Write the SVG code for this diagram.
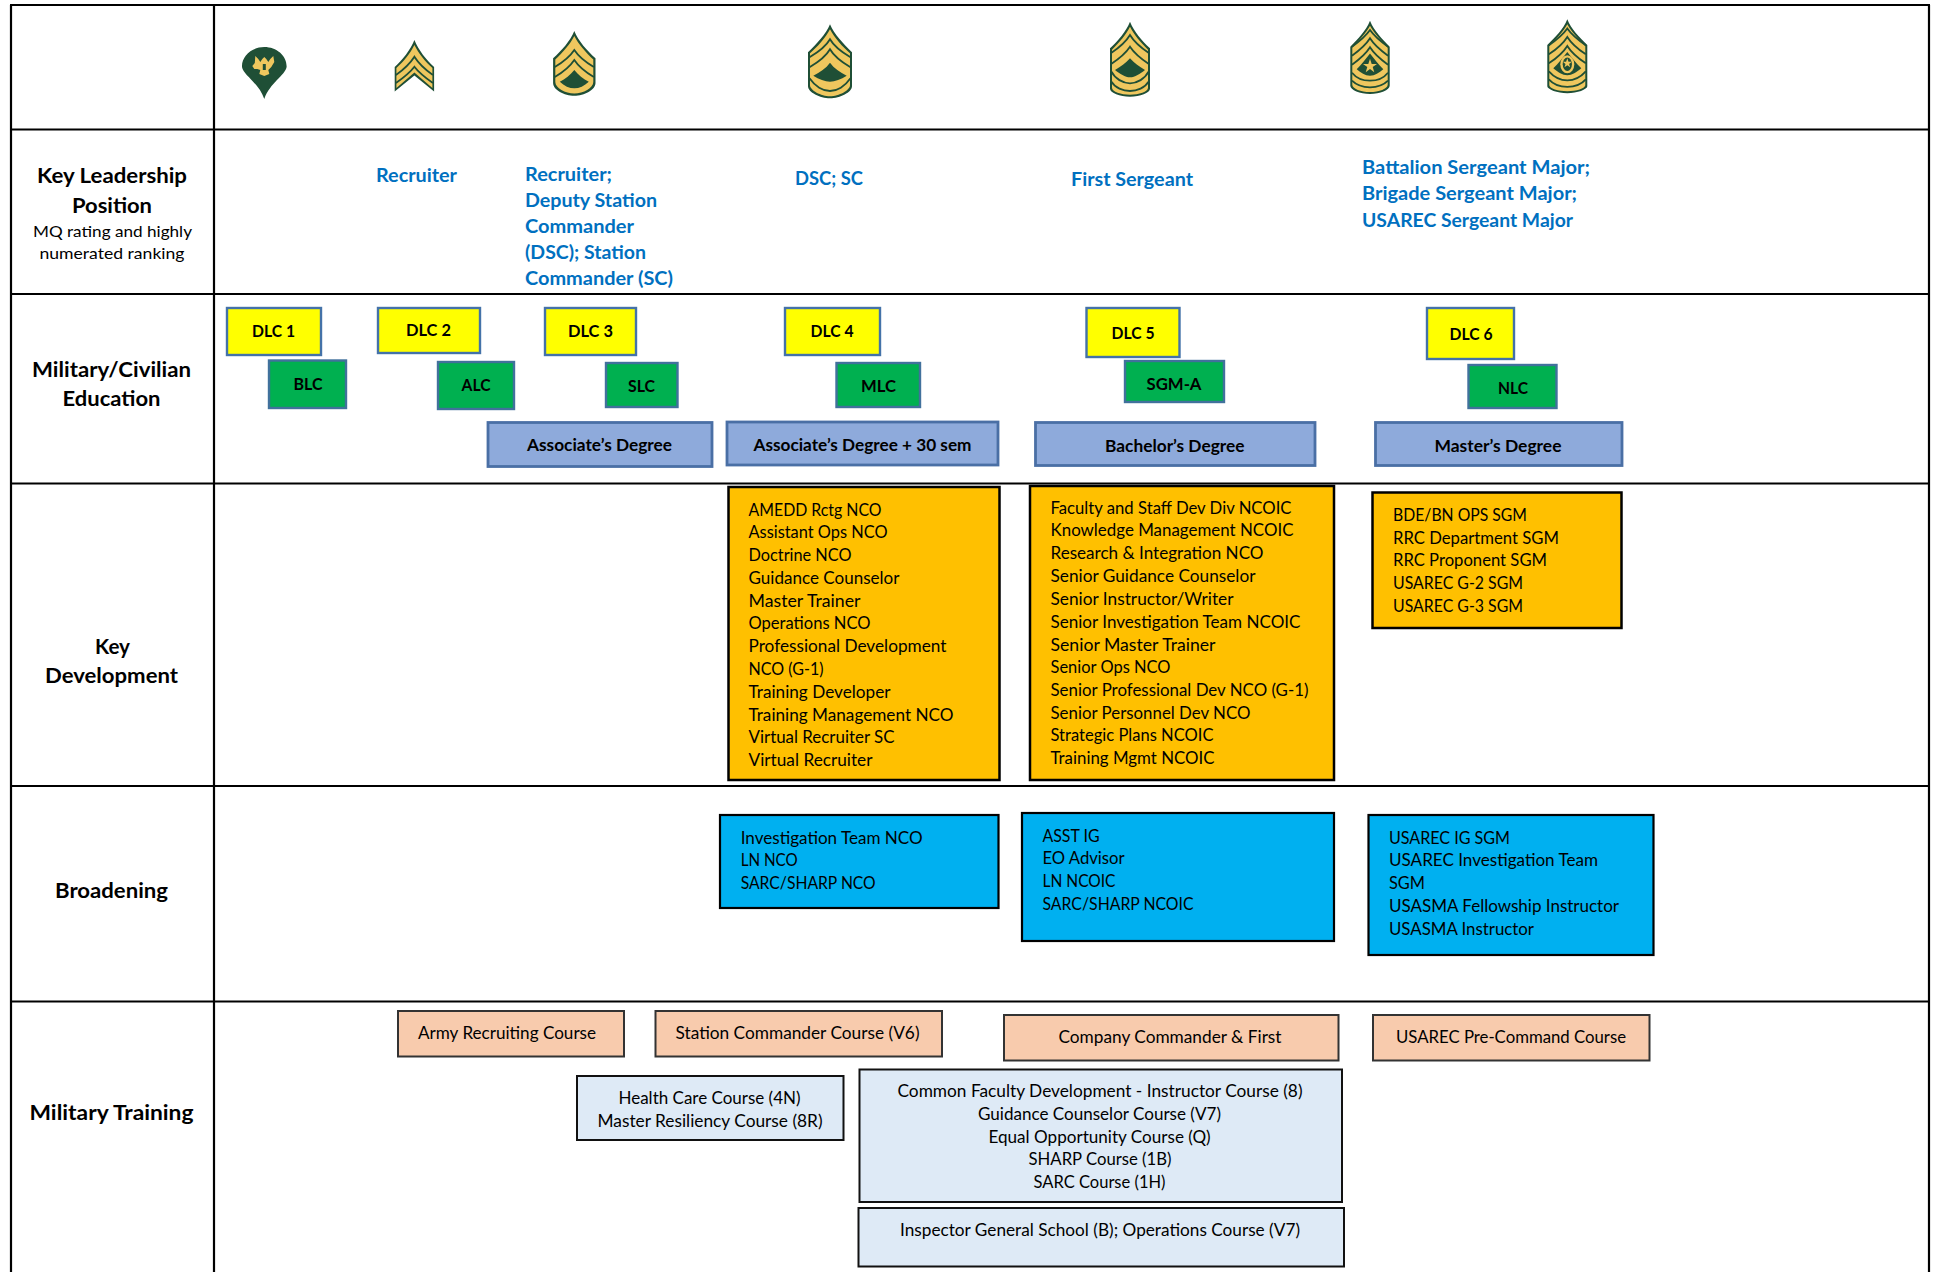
<svg xmlns="http://www.w3.org/2000/svg" width="1935" height="1272" viewBox="0 0 1935 1272">
<style>
text{font-family:"Lato","Carlito","Liberation Sans",sans-serif;fill:#000}
.h{font-size:21px;font-weight:700}
.s{font-size:16px}
.k{font-size:19.5px;font-weight:700;fill:#0070C0}
.b{font-size:17px;font-weight:700}
.d{font-size:17px;font-weight:700}
.t{font-size:17px}
.grid{stroke:#000;stroke-width:2.2;fill:none}
.y{fill:#FFFF00;stroke:#4472A8;stroke-width:2.4}
.g{fill:#00B050;stroke:#41719C;stroke-width:2.4}
.e{fill:#8EAADB;stroke:#4A6FA5;stroke-width:2.8}
.o{fill:#FFC000;stroke:#000;stroke-width:2.5}
.c{fill:#00B0F0;stroke:#000;stroke-width:2.2}
.p{fill:#F8CBAD;stroke:#333;stroke-width:2}
.l{fill:#DEEAF6;stroke:#111;stroke-width:2}
.io{fill:#1F4F36}
.ig{fill:#EFC75E}
.il{fill:none;stroke:#1F4F36;stroke-width:1.8}
</style>
<rect width="1935" height="1272" fill="#fff"/>
<g id="grid" class="grid">
<path d="M11 5V1272M214 5V1272M1929 5V1272"/>
<path d="M10 5H1930M10 129.5H1930M10 294H1930M10 483.5H1930M10 786H1930M10 1001.5H1930"/>
</g>
<g id="insignia">
<g id="rank-spc" transform="translate(264.3,47)">
<path class="io" d="M0 0C12.500 0 22.800 9 22.300 20C21 28 5.500 36 0 52C-5.500 36 -21 28 -22.300 20C-22.800 9 -12.500 0 0 0Z"/>
<path class="ig" d="M-9 9L-6 12L-4 15L-2 12L0 10L2 12L4 15L6 12L9 9L10 15L7 20L4 23L5 27L0 29L-5 27L-4 23L-7 22L-10 22L-12 19L-9.500 16Z"/>
<path class="io" d="M-1.500 17H1.500V23H-1.500Z"/>
</g>
<g id="rank-sgt" transform="translate(414.4,40)">
<path class="io" d="M0 0C-4 10 -12 20 -19.7 27L-19.7 51.5L0 35.5L19.7 51.5L19.7 27C12 20 4 10 0 0Z"/>
<path class="ig" d="M0 5C-4 13 -11 22 -18 28L-18 48L0 32.5L18 48L18 28C11 22 4 13 0 5Z"/>
<path class="il" d="M-18.5 35C-10 29 -4 23 0 16.7C4 23 10 29 18.5 35M-18.5 43C-10 37 -4 32 0 26.7C4 32 10 37 18.5 43"/>
</g>
<g id="rank-ssg" transform="translate(574.3,31)">
<path class="io" d="M0 0C-4 10 -13 20 -21.2 27.3L-21.2 52C-21.2 59 -10 64.7 0 64.7C10 64.7 21.2 59 21.2 52L21.2 27.3C13 20 4 10 0 0Z"/>
<path class="ig" d="M0 5C-4 13 -12 22 -19 28.5L-19 51C-19 57 -9 62.5 0 62.5C9 62.5 19 57 19 51L19 28.5C12 22 4 13 0 5Z"/>
<path class="il" d="M-19.5 36C-11 31 -4 25 0 19C4 25 11 31 19.5 36M-19.5 46C-11 41 -4 35 0 29C4 35 11 41 19.5 46"/>
<path class="io" d="M0 39C-4 44 -9 48 -14.5 50.7C-10 55 -5 57.3 0 57.3C5 57.3 10 55 14.5 50.7C9 48 4 44 0 39Z"/>
</g>
<g id="rank-sfc" transform="translate(830,24.3)">
<path class="io" d="M0 0C-4 10 -14 20 -22 28L-22 62C-22 68 -10 74 0 74C10 74 22 68 22 62L22 28C14 20 4 10 0 0Z"/>
<path class="ig" d="M0 5C-4 13 -13 23 -20 29L-20 61C-20 66 -9 72 0 72C9 72 20 66 20 61L20 29C13 23 4 13 0 5Z"/>
<path class="il" d="M-20.5 33C-12 28 -4 22 0 15C4 22 12 28 20.5 33M-20.5 43C-12 38 -4 32 0 25C4 32 12 38 20.5 43M-20.5 54C-15 62 -7 66.7 0 66.7C7 66.7 15 62 20.5 54"/>
<path class="io" d="M0 38.4C-4 44 -10 48 -16.7 51.4C-11 55 -5 57.4 0 57.4C5 57.4 11 55 16.7 51.4C10 48 4 44 0 38.4Z"/>
</g>
<g id="rank-msg" transform="translate(1130,21.7)">
<path class="io" d="M0 0C-4 10 -12 19 -20 26.6L-20 67C-20 71 -10 75 0 75C10 75 20 71 20 67L20 26.6C12 19 4 10 0 0Z"/>
<path class="ig" d="M0 5C-4 13 -11 21 -18 28L-18 66C-18 70 -9 73 0 73C9 73 18 70 18 66L18 28C11 21 4 13 0 5Z"/>
<path class="il" d="M-18.5 31C-11 26 -4 20 0 13.3C4 20 11 26 18.5 31M-18.5 42C-11 37 -4 31 0 25C4 31 11 37 18.5 42M-18.5 50C-15 57 -7 61.6 0 61.6C7 61.6 15 57 18.5 50M-18.5 60C-15 66 -7 69.3 0 69.3C7 69.3 15 66 18.5 60"/>
<path class="io" d="M0 36.6C-4 41 -9 45 -15 48.3C-10 52 -5 55.6 0 55.6C5 55.6 10 52 15 48.3C9 45 4 41 0 36.6Z"/>
</g>
<g id="rank-sgm" transform="translate(1370,20.7)">
<path class="io" d="M0 0C-4 10 -12 18 -19.7 26L-19.7 65C-19.7 69 -10 73.3 0 73.3C10 73.3 19.7 69 19.7 65L19.7 26C12 18 4 10 0 0Z"/>
<path class="ig" d="M0 5C-4 12 -11 20 -17.7 27L-17.7 64C-17.7 68 -9 71.3 0 71.3C9 71.3 17.7 68 17.7 64L17.7 27C11 20 4 12 0 5Z"/>
<path class="il" d="M-18 26C-11 21 -4 15 0 9.3C4 15 11 21 18 26M-18 35C-11 30 -4 24 0 17.6C4 24 11 30 18 35M-18 44C-11 39 -4 33 0 26.6C4 33 11 39 18 44M-18 52C-14 57 -7 60 0 60C7 60 14 57 18 52M-18 60C-14 64 -7 66.6 0 66.6C7 66.6 14 64 18 60"/>
<path class="io" d="M0 32.7C-4 38 -9 44 -13.3 48.6C-9 52 -5 55 0 55C5 55 9 52 13.3 48.6C9 44 4 38 0 32.7Z"/>
<path class="ig" d="M0 38L1.7 43.2L7 43.2L2.7 46.4L4.3 51.6L0 48.4L-4.3 51.6L-2.7 46.4L-7 43.2L-1.7 43.2Z"/>
</g>
<g id="rank-csm" transform="translate(1567.3,19.3)">
<path class="io" d="M0 0C-4 10 -12 18 -20 25.7L-20 67C-20 70 -10 74 0 74C10 74 20 70 20 67L20 25.7C12 18 4 10 0 0Z"/>
<path class="ig" d="M0 5C-4 12 -11 20 -18 27L-18 66C-18 69 -9 72 0 72C9 72 18 69 18 66L18 27C11 20 4 12 0 5Z"/>
<path class="il" d="M-18.5 26C-11 21 -4 15 0 9.3C4 15 11 21 18.5 26M-18.5 35C-11 30 -4 24 0 17.6C4 24 11 30 18.5 35M-18.5 44C-11 39 -4 33 0 26.6C4 33 11 39 18.5 44M-18.5 52C-14 57 -7 61 0 61C7 61 14 57 18.5 52M-18.5 60C-14 65 -7 67.5 0 67.5C7 67.5 14 65 18.5 60"/>
<path class="io" d="M0 32.7C-4 38 -9 44 -14 49C-9 53 -5 56 0 56C5 56 9 53 14 49C9 44 4 38 0 32.7Z"/>
<ellipse class="ig" cx="0" cy="45" rx="7" ry="9"/>
<ellipse class="io" cx="0" cy="45" rx="4.6" ry="6.8"/>
<path class="ig" d="M0 39L1.2 42.5L4.5 42.5L1.8 44.6L2.8 48L0 46L-2.8 48L-1.8 44.6L-4.5 42.5L-1.2 42.5Z"/>
</g>
</g>
<g id="row-labels">
<text class="h" x="37" y="183" textLength="150" lengthAdjust="spacingAndGlyphs">Key Leadership</text>
<text class="h" x="72" y="213" textLength="80" lengthAdjust="spacingAndGlyphs">Position</text>
<text class="s" x="33" y="237" textLength="159" lengthAdjust="spacingAndGlyphs">MQ rating and highly</text>
<text class="s" x="39.500" y="258.7" textLength="145" lengthAdjust="spacingAndGlyphs">numerated ranking</text>
<text class="h" x="32" y="377" textLength="159" lengthAdjust="spacingAndGlyphs">Military/Civilian</text>
<text class="h" x="62.500" y="406" textLength="98" lengthAdjust="spacingAndGlyphs">Education</text>
<text class="h" x="95" y="654.3" textLength="35" lengthAdjust="spacingAndGlyphs">Key</text>
<text class="h" x="45" y="683" textLength="133" lengthAdjust="spacingAndGlyphs">Development</text>
<text class="h" x="55" y="897.6" textLength="113" lengthAdjust="spacingAndGlyphs">Broadening</text>
<text class="h" x="29.500" y="1120" textLength="164" lengthAdjust="spacingAndGlyphs">Military Training</text>
</g>
<g id="key-leadership">
<text class="k" x="376" y="182" textLength="81" lengthAdjust="spacingAndGlyphs">Recruiter</text>
<text class="k" x="525" y="180.7" textLength="87" lengthAdjust="spacingAndGlyphs">Recruiter;</text>
<text class="k" x="525" y="206.7" textLength="132" lengthAdjust="spacingAndGlyphs">Deputy Station</text>
<text class="k" x="525" y="232.7" textLength="109" lengthAdjust="spacingAndGlyphs">Commander</text>
<text class="k" x="525" y="258.7" textLength="121" lengthAdjust="spacingAndGlyphs">(DSC); Station</text>
<text class="k" x="525" y="284.7" textLength="148" lengthAdjust="spacingAndGlyphs">Commander (SC)</text>
<text class="k" x="795" y="185" textLength="68" lengthAdjust="spacingAndGlyphs">DSC; SC</text>
<text class="k" x="1071" y="186" textLength="122" lengthAdjust="spacingAndGlyphs">First Sergeant</text>
<text class="k" x="1362" y="174" textLength="228" lengthAdjust="spacingAndGlyphs">Battalion Sergeant Major;</text>
<text class="k" x="1362" y="200" textLength="215" lengthAdjust="spacingAndGlyphs">Brigade Sergeant Major;</text>
<text class="k" x="1362" y="227" textLength="211" lengthAdjust="spacingAndGlyphs">USAREC Sergeant Major</text>
</g>
<g id="dlc-1"><rect class="y" x="227" y="308" width="94" height="47"/><text class="b" x="252" y="337" textLength="43" lengthAdjust="spacingAndGlyphs">DLC 1</text></g>
<g id="dlc-2"><rect class="y" x="378" y="308" width="102" height="45"/><text class="b" x="406" y="336" textLength="45" lengthAdjust="spacingAndGlyphs">DLC 2</text></g>
<g id="dlc-3"><rect class="y" x="545" y="308" width="91" height="47"/><text class="b" x="568" y="337" textLength="45" lengthAdjust="spacingAndGlyphs">DLC 3</text></g>
<g id="dlc-4"><rect class="y" x="785" y="308" width="95" height="47"/><text class="b" x="810.500" y="336.7" textLength="43" lengthAdjust="spacingAndGlyphs">DLC 4</text></g>
<g id="dlc-5"><rect class="y" x="1086.5" y="308" width="93" height="49"/><text class="b" x="1111.500" y="339" textLength="43" lengthAdjust="spacingAndGlyphs">DLC 5</text></g>
<g id="dlc-6"><rect class="y" x="1427" y="308" width="87" height="51"/><text class="b" x="1449.500" y="340" textLength="43" lengthAdjust="spacingAndGlyphs">DLC 6</text></g>
<g id="blc"><rect class="g" x="269" y="360.5" width="77" height="47.5"/><text class="b" x="293.500" y="390" textLength="29" lengthAdjust="spacingAndGlyphs">BLC</text></g>
<g id="alc"><rect class="g" x="438" y="362" width="76" height="47"/><text class="b" x="461.500" y="391" textLength="29" lengthAdjust="spacingAndGlyphs">ALC</text></g>
<g id="slc"><rect class="g" x="606" y="363" width="71.5" height="44"/><text class="b" x="628" y="392" textLength="27" lengthAdjust="spacingAndGlyphs">SLC</text></g>
<g id="mlc"><rect class="g" x="836.5" y="363" width="83.5" height="44"/><text class="b" x="861" y="391.7" textLength="35" lengthAdjust="spacingAndGlyphs">MLC</text></g>
<g id="sgm-a"><rect class="g" x="1125" y="361" width="99" height="41"/><text class="b" x="1146.500" y="390" textLength="55" lengthAdjust="spacingAndGlyphs">SGM-A</text></g>
<g id="nlc"><rect class="g" x="1468.5" y="365" width="88" height="43"/><text class="b" x="1498" y="394" textLength="30" lengthAdjust="spacingAndGlyphs">NLC</text></g>
<g id="degree-associate"><rect class="e" x="488" y="422.5" width="224" height="44"/><text class="d" x="527" y="451" textLength="145" lengthAdjust="spacingAndGlyphs">Associate’s Degree</text></g>
<g id="degree-associate-30"><rect class="e" x="727" y="422" width="271" height="43"/><text class="d" x="753.500" y="451" textLength="218" lengthAdjust="spacingAndGlyphs">Associate’s Degree + 30 sem</text></g>
<g id="degree-bachelor"><rect class="e" x="1035.5" y="422.5" width="279.5" height="43"/><text class="d" x="1105" y="452" textLength="139.5" lengthAdjust="spacingAndGlyphs">Bachelor’s Degree</text></g>
<g id="degree-master"><rect class="e" x="1375.500" y="422.5" width="246.500" height="43"/><text class="d" x="1434.500" y="452" textLength="127" lengthAdjust="spacingAndGlyphs">Master’s Degree</text></g>
<g id="key-dev-e7"><rect class="o" x="728.5" y="487" width="271" height="293"/>
<text class="t" x="748.500" y="516" textLength="133" lengthAdjust="spacingAndGlyphs">AMEDD Rctg NCO</text>
<text class="t" x="748.500" y="538.3" textLength="139" lengthAdjust="spacingAndGlyphs">Assistant Ops NCO</text>
<text class="t" x="748.500" y="561.3" textLength="103" lengthAdjust="spacingAndGlyphs">Doctrine NCO</text>
<text class="t" x="748.500" y="584.3" textLength="151" lengthAdjust="spacingAndGlyphs">Guidance Counselor</text>
<text class="t" x="748.500" y="607" textLength="112" lengthAdjust="spacingAndGlyphs">Master Trainer</text>
<text class="t" x="748.500" y="629.3" textLength="122" lengthAdjust="spacingAndGlyphs">Operations NCO</text>
<text class="t" x="748.500" y="652.3" textLength="198" lengthAdjust="spacingAndGlyphs">Professional Development</text>
<text class="t" x="748.500" y="675" textLength="75" lengthAdjust="spacingAndGlyphs">NCO (G-1)</text>
<text class="t" x="748.500" y="698.3" textLength="142" lengthAdjust="spacingAndGlyphs">Training Developer</text>
<text class="t" x="748.500" y="721" textLength="205" lengthAdjust="spacingAndGlyphs">Training Management NCO</text>
<text class="t" x="748.500" y="743.3" textLength="146" lengthAdjust="spacingAndGlyphs">Virtual Recruiter SC</text>
<text class="t" x="748.500" y="766" textLength="124" lengthAdjust="spacingAndGlyphs">Virtual Recruiter</text>
</g>
<g id="key-dev-e8"><rect class="o" x="1030" y="486" width="304" height="294"/>
<text class="t" x="1050.500" y="514.3" textLength="241" lengthAdjust="spacingAndGlyphs">Faculty and Staff Dev Div NCOIC</text>
<text class="t" x="1050.500" y="536.3" textLength="243" lengthAdjust="spacingAndGlyphs">Knowledge Management NCOIC</text>
<text class="t" x="1050.500" y="559.3" textLength="213" lengthAdjust="spacingAndGlyphs">Research &amp; Integration NCO</text>
<text class="t" x="1050.500" y="582.3" textLength="205" lengthAdjust="spacingAndGlyphs">Senior Guidance Counselor</text>
<text class="t" x="1050.500" y="605.3" textLength="183" lengthAdjust="spacingAndGlyphs">Senior Instructor/Writer</text>
<text class="t" x="1050.500" y="628.3" textLength="250" lengthAdjust="spacingAndGlyphs">Senior Investigation Team NCOIC</text>
<text class="t" x="1050.500" y="650.7" textLength="165" lengthAdjust="spacingAndGlyphs">Senior Master Trainer</text>
<text class="t" x="1050.500" y="673.3" textLength="120" lengthAdjust="spacingAndGlyphs">Senior Ops NCO</text>
<text class="t" x="1050.500" y="696.3" textLength="258" lengthAdjust="spacingAndGlyphs">Senior Professional Dev NCO (G-1)</text>
<text class="t" x="1050.500" y="719.3" textLength="200" lengthAdjust="spacingAndGlyphs">Senior Personnel Dev NCO</text>
<text class="t" x="1050.500" y="741.3" textLength="163" lengthAdjust="spacingAndGlyphs">Strategic Plans NCOIC</text>
<text class="t" x="1050.500" y="764.3" textLength="164" lengthAdjust="spacingAndGlyphs">Training Mgmt NCOIC</text>
</g>
<g id="key-dev-e9"><rect class="o" x="1372.5" y="492.5" width="249" height="135.5"/>
<text class="t" x="1393" y="521" textLength="134" lengthAdjust="spacingAndGlyphs">BDE/BN OPS SGM</text>
<text class="t" x="1393" y="544" textLength="166" lengthAdjust="spacingAndGlyphs">RRC Department SGM</text>
<text class="t" x="1393" y="566.3" textLength="154" lengthAdjust="spacingAndGlyphs">RRC Proponent SGM</text>
<text class="t" x="1393" y="589" textLength="130" lengthAdjust="spacingAndGlyphs">USAREC G-2 SGM</text>
<text class="t" x="1393" y="611.7" textLength="130" lengthAdjust="spacingAndGlyphs">USAREC G-3 SGM</text>
</g>
<g id="broadening-e7"><rect class="c" x="720" y="815" width="278.5" height="93"/>
<text class="t" x="740.7" y="844" textLength="182" lengthAdjust="spacingAndGlyphs">Investigation Team NCO</text>
<text class="t" x="740.7" y="866" textLength="57" lengthAdjust="spacingAndGlyphs">LN NCO</text>
<text class="t" x="740.7" y="889" textLength="135" lengthAdjust="spacingAndGlyphs">SARC/SHARP NCO</text>
</g>
<g id="broadening-e8"><rect class="c" x="1022" y="813" width="312" height="128"/>
<text class="t" x="1042.5" y="842" textLength="57" lengthAdjust="spacingAndGlyphs">ASST IG</text>
<text class="t" x="1042.5" y="864.3" textLength="82" lengthAdjust="spacingAndGlyphs">EO Advisor</text>
<text class="t" x="1042.5" y="887" textLength="73" lengthAdjust="spacingAndGlyphs">LN NCOIC</text>
<text class="t" x="1042.5" y="910" textLength="151" lengthAdjust="spacingAndGlyphs">SARC/SHARP NCOIC</text>
</g>
<g id="broadening-e9"><rect class="c" x="1368.5" y="815" width="285" height="140"/>
<text class="t" x="1389" y="844" textLength="121" lengthAdjust="spacingAndGlyphs">USAREC IG SGM</text>
<text class="t" x="1389" y="866.3" textLength="209" lengthAdjust="spacingAndGlyphs">USAREC Investigation Team</text>
<text class="t" x="1389" y="889" textLength="36" lengthAdjust="spacingAndGlyphs">SGM</text>
<text class="t" x="1389" y="912" textLength="230" lengthAdjust="spacingAndGlyphs">USASMA Fellowship Instructor</text>
<text class="t" x="1389" y="935" textLength="145" lengthAdjust="spacingAndGlyphs">USASMA Instructor</text>
</g>
<g id="course-recruiting"><rect class="p" x="398" y="1011" width="226" height="45.5"/><text class="t" x="418" y="1039.3" textLength="178" lengthAdjust="spacingAndGlyphs">Army Recruiting Course</text></g>
<g id="course-station"><rect class="p" x="655.5" y="1011" width="286.5" height="45.5"/><text class="t" x="675.500" y="1039.3" textLength="244" lengthAdjust="spacingAndGlyphs">Station Commander Course (V6)</text></g>
<g id="course-company"><rect class="p" x="1004" y="1015" width="334.5" height="45.5"/><text class="t" x="1058.500" y="1043.3" textLength="223" lengthAdjust="spacingAndGlyphs">Company Commander &amp; First</text></g>
<g id="course-precommand"><rect class="p" x="1373" y="1015" width="276.500" height="45.5"/><text class="t" x="1396" y="1043.3" textLength="230" lengthAdjust="spacingAndGlyphs">USAREC Pre-Command Course</text></g>
<g id="course-health"><rect class="l" x="577" y="1076" width="266.5" height="64"/>
<text class="t" x="618.500" y="1104" textLength="182" lengthAdjust="spacingAndGlyphs">Health Care Course (4N)</text>
<text class="t" x="597.500" y="1126.7" textLength="225" lengthAdjust="spacingAndGlyphs">Master Resiliency Course (8R)</text>
</g>
<g id="course-faculty"><rect class="l" x="859.500" y="1069.5" width="482.500" height="132.5"/>
<text class="t" x="897.500" y="1097" textLength="405" lengthAdjust="spacingAndGlyphs">Common Faculty Development - Instructor Course (8)</text>
<text class="t" x="978" y="1120" textLength="243" lengthAdjust="spacingAndGlyphs">Guidance Counselor Course (V7)</text>
<text class="t" x="988.500" y="1143" textLength="222" lengthAdjust="spacingAndGlyphs">Equal Opportunity Course (Q)</text>
<text class="t" x="1028.500" y="1165" textLength="143" lengthAdjust="spacingAndGlyphs">SHARP Course (1B)</text>
<text class="t" x="1033.500" y="1188" textLength="132" lengthAdjust="spacingAndGlyphs">SARC Course (1H)</text>
</g>
<g id="course-inspector"><rect class="l" x="858.5" y="1208" width="485.5" height="58.5"/>
<text class="t" x="900" y="1236" textLength="400" lengthAdjust="spacingAndGlyphs">Inspector General School (B); Operations Course (V7)</text>
</g>
</svg>
